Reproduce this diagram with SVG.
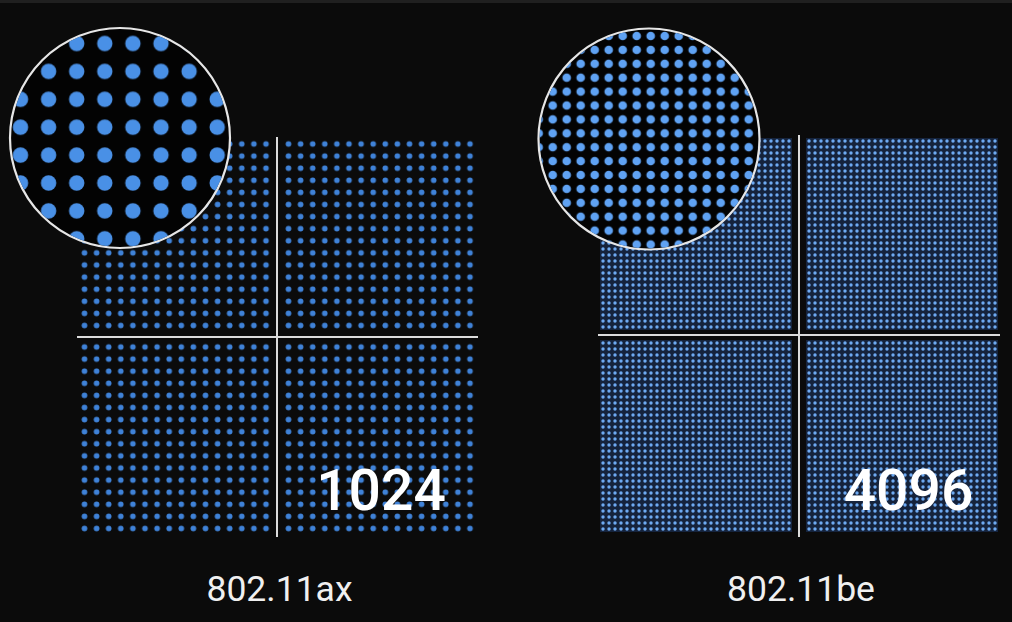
<svg xmlns="http://www.w3.org/2000/svg" width="1012" height="622" viewBox="0 0 1012 622">
  <defs>
    <style>
      .axis { stroke: #dcdcdc; stroke-width: 2; fill: none; }
      .ring { stroke: #e6e6e6; stroke-width: 2.2; fill: #030303; }
      .big { font-family: Roboto, "Liberation Sans", sans-serif; font-weight: 500; font-size: 57px; fill: #ffffff; text-anchor: middle; }
      .label { font-family: Roboto, "Liberation Sans", sans-serif; font-size: 35.5px; fill: #f0f0f0; text-anchor: middle; }
    </style>
    <pattern id="dotsA" patternUnits="userSpaceOnUse" x="0" y="0" width="12.1" height="12.1">
      <circle cx="6.05" cy="6.05" r="2.8" fill="#3f82d8"/>
    </pattern>
    <pattern id="dotsB" patternUnits="userSpaceOnUse" x="0" y="0" width="6" height="6">
      <rect width="6" height="6" fill="#15233c"/>
      <circle cx="3" cy="3" r="1.7" fill="#6eaaf2"/>
    </pattern>
    <pattern id="magA" patternUnits="userSpaceOnUse" x="0" y="0" width="28.1" height="27.9">
      <circle cx="14.05" cy="13.95" r="7.7" fill="#4a90e6"/>
    </pattern>
    <pattern id="magB" patternUnits="userSpaceOnUse" x="0" y="0" width="14" height="13.9">
      <circle cx="7" cy="6.95" r="4.3" fill="#5fa2f3"/>
    </pattern>
    <filter id="soft" x="-5%" y="-5%" width="110%" height="110%">
      <feGaussianBlur stdDeviation="0.7"/>
    </filter>
    <clipPath id="clipA"><circle cx="120" cy="138" r="109"/></clipPath>
    <clipPath id="clipB"><circle cx="649" cy="139" r="109.5"/></clipPath>
  </defs>

  <rect width="1012" height="622" fill="#0b0b0b"/>
  <rect width="1012" height="3" fill="#202020"/>

  <g id="ax-constellation">
    <rect transform="translate(78.45,137.95)" width="193.6" height="193.6" fill="url(#dotsA)"/>
    <rect transform="translate(282.45,137.95)" width="193.6" height="193.6" fill="url(#dotsA)"/>
    <rect transform="translate(78.45,340.95)" width="193.6" height="193.6" fill="url(#dotsA)"/>
    <rect transform="translate(282.45,340.95)" width="193.6" height="193.6" fill="url(#dotsA)"/>
    <line class="axis" x1="277" y1="137" x2="277" y2="537"/>
    <line class="axis" x1="77" y1="337" x2="478" y2="337"/>
  </g>

  <g id="be-constellation">
    <rect transform="translate(600,138)" width="192" height="192" fill="url(#dotsB)"/>
    <rect transform="translate(806,138)" width="192" height="192" fill="url(#dotsB)"/>
    <rect transform="translate(600,340)" width="192" height="192" fill="url(#dotsB)"/>
    <rect transform="translate(806,340)" width="192" height="192" fill="url(#dotsB)"/>
    <line class="axis" x1="799" y1="135" x2="799" y2="537"/>
    <line class="axis" x1="598" y1="335" x2="1000" y2="335"/>
  </g>

  <g id="ax-magnifier">
    <circle class="ring" cx="120" cy="138" r="110"/>
    <g clip-path="url(#clipA)">
      <rect transform="translate(6.45,29.55)" width="230" height="230" fill="url(#magA)" filter="url(#soft)"/>
    </g>
  </g>

  <g id="be-magnifier">
    <circle class="ring" cx="649" cy="139" r="110.5"/>
    <g clip-path="url(#clipB)">
      <rect transform="translate(531.7,29.05)" width="238" height="236" fill="url(#magB)" filter="url(#soft)"/>
    </g>
  </g>

  <g id="texts">
    <text class="big" x="381" y="510">1024</text>
    <text class="big" x="908.5" y="510">4096</text>
    <text class="label" x="279.5" y="601">802.11ax</text>
    <text class="label" x="801" y="601">802.11be</text>
  </g>
</svg>
